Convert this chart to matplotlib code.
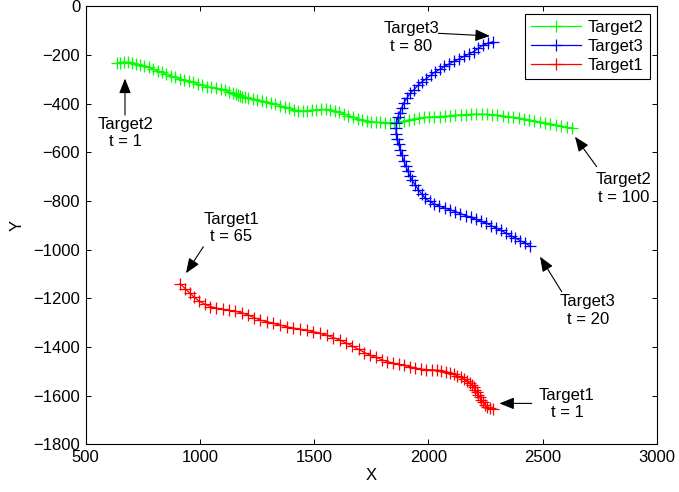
import matplotlib
matplotlib.use("Agg")
import matplotlib.pyplot as plt

plt.rcParams['font.family'] = ['Liberation Sans', 'DejaVu Sans']
plt.rcParams['font.size'] = 12

# Target2: t = 1 .. 100
t2_x = [636, 652, 668, 686, 703, 721, 739, 757, 776, 795,
        815, 834, 853, 872, 892, 912, 931, 950, 970, 990,
        1010, 1030, 1050, 1070, 1090, 1110, 1128, 1145, 1158, 1168,
        1176, 1184, 1196, 1212, 1230, 1250, 1270, 1290, 1310, 1330,
        1350, 1370, 1390, 1410, 1430, 1450, 1470, 1490, 1510, 1530,
        1550, 1570, 1590, 1610, 1630, 1650, 1670, 1690, 1710, 1730,
        1750, 1770, 1790, 1810, 1830, 1850, 1870, 1892, 1914, 1936,
        1958, 1980, 2003, 2026, 2049, 2072, 2095, 2118, 2141, 2164,
        2187, 2210, 2233, 2256, 2279, 2302, 2325, 2348, 2371, 2394,
        2417, 2440, 2463, 2486, 2509, 2532, 2556, 2580, 2604, 2627]
t2_y = [-234, -231, -229, -230, -232, -236, -240, -245, -251, -258,
        -265, -272, -279, -286, -292, -298, -303, -307, -312, -318,
        -324, -330, -333, -336, -340, -346, -352, -358, -362, -365,
        -368, -371, -374, -377, -380, -384, -388, -392, -397, -402,
        -408, -414, -420, -425, -429, -430, -429, -427, -425, -424,
        -424, -426, -430, -436, -442, -449, -456, -462, -467, -471,
        -474, -476, -477, -478, -478, -478, -476, -472, -467, -463,
        -460, -457, -455, -454, -453, -452, -450, -448, -446, -445,
        -444, -443, -443, -444, -445, -447, -450, -453, -456, -459,
        -463, -467, -471, -475, -479, -483, -488, -493, -498, -502]

# Target3: t = 20 .. 80
t3_x = [2444, 2423, 2401, 2380, 2359, 2338, 2317, 2295, 2274, 2253,
        2230, 2208, 2185, 2163, 2140, 2118, 2094, 2071, 2047, 2025,
        2005, 1986, 1970, 1955, 1942, 1929, 1917, 1909, 1900, 1891,
        1884, 1877, 1869, 1864, 1858, 1859, 1860, 1865, 1874, 1883,
        1893, 1906, 1919, 1937, 1954, 1972, 1991, 2010, 2029, 2049,
        2070, 2091, 2112, 2134, 2155, 2177, 2198, 2218, 2238, 2261,
        2284]
t3_y = [-984, -973, -963, -952, -942, -931, -921, -911, -901, -891,
        -883, -876, -867, -860, -852, -844, -836, -829, -821, -812,
        -802, -789, -771, -753, -734, -715, -696, -676, -655, -634,
        -612, -590, -567, -546, -524, -501, -478, -457, -437, -416,
        -396, -377, -358, -342, -325, -310, -297, -283, -270, -259,
        -247, -236, -226, -216, -206, -196, -186, -173, -160, -152,
        -145]

# Target1: t = 1 .. 65
t1_x = [2284, 2270, 2258, 2249, 2240, 2232, 2224, 2217, 2211, 2205,
        2198, 2190, 2180, 2168, 2155, 2141, 2126, 2110, 2093, 2075,
        2056, 2036, 2014, 1990, 1966, 1942, 1918, 1894, 1870, 1846,
        1820, 1795, 1770, 1745, 1720, 1694, 1667, 1640, 1613, 1584,
        1555, 1526, 1496, 1467, 1438, 1409, 1380, 1350, 1321, 1292,
        1263, 1236, 1209, 1182, 1155, 1128, 1100, 1072, 1046, 1020,
        996, 975, 956, 936, 913]
t1_y = [-1657, -1652, -1645, -1637, -1628, -1618, -1607, -1597, -1587, -1577,
        -1566, -1557, -1548, -1540, -1532, -1525, -1518, -1512, -1506, -1501,
        -1497, -1495, -1494, -1493, -1491, -1486, -1481, -1476, -1472, -1467,
        -1460, -1452, -1443, -1434, -1423, -1410, -1396, -1384, -1372, -1362,
        -1352, -1344, -1337, -1332, -1327, -1322, -1317, -1310, -1303, -1296,
        -1289, -1279, -1268, -1259, -1254, -1250, -1246, -1240, -1234, -1224,
        -1211, -1196, -1179, -1161, -1140]

# annotation: label, text position, arrow tail, arrow tip
notes = [
    ("Target2\nt = 1", (674, -521), (672, -447), (672, -297)),
    ("Target3\nt = 80", (1924, -128), (2043, -111), (2269, -122)),
    ("Target2\nt = 100", (2853, -748), (2736, -659), (2641, -536)),
    ("Target3\nt = 20", (2698, -1250), (2583, -1173), (2488, -1029)),
    ("Target1\nt = 65", (1136, -910), (1015, -988), (939, -1097)),
    ("Target1\nt = 1", (2606, -1635), (2452, -1632), (2310, -1632)),
]

fig = plt.figure(figsize=(6.79, 4.92), dpi=100)
ax = fig.add_axes([0.1262, 0.0970, 0.8414, 0.8902])

style = dict(marker='+', markersize=8.5, markeredgewidth=0.9, linewidth=0.9)
ax.plot(t2_x, t2_y, color=(0, 1, 0), label='Target2', **style)
ax.plot(t3_x, t3_y, color=(0, 0, 1), label='Target3', **style)
ax.plot(t1_x, t1_y, color=(1, 0, 0), label='Target1', **style)

for label, txt, tail, tip in notes:
    ax.text(txt[0], txt[1], label, ha='center', va='center',
            multialignment='center', linespacing=1.2)
    ax.annotate('', xy=tip, xytext=tail,
                arrowprops=dict(arrowstyle='-|>,head_length=0.75,head_width=0.3',
                                color='k', lw=0.8, shrinkA=0, shrinkB=0,
                                mutation_scale=12))

ax.set_xlim(500, 3000)
ax.set_ylim(-1800, 0)
ax.set_xticks(range(500, 3001, 500))
ax.set_yticks(range(-1800, 1, 200))
ax.tick_params(direction='in', length=3.6, width=0.7, top=True, right=True,
               pad=4)
for s in ax.spines.values():
    s.set_linewidth(0.8)

ax.set_xlabel('X', labelpad=2)
ax.set_ylabel('Y', labelpad=6)

leg = ax.legend(loc='upper right', fancybox=False, framealpha=1,
                edgecolor='k', borderaxespad=0.45, handlelength=3.0,
                handletextpad=0.4, borderpad=0.35, labelspacing=0.25,
                numpoints=1)
leg.get_frame().set_linewidth(0.8)

fig.savefig('out.png', dpi=100)
